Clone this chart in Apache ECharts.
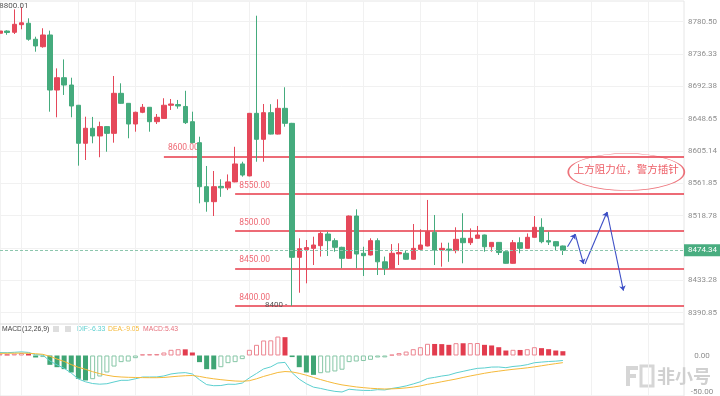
<!DOCTYPE html>
<html><head><meta charset="utf-8">
<script src="https://cdn.jsdelivr.net/npm/echarts@6/dist/echarts.min.js"></script>
<style>html,body{margin:0;padding:0;background:#fff}#c{width:720px;height:396px}</style>
</head><body><div id="c"></div>
<script>
// ---------------- data ----------------
const slotCount = 97; // candle slots (80 candles + empty future slots)
// [open, close, low, high]
const ohlc = [
 [8765,8768,8763,8770],[8768,8766,8763,8769],[8766.3,8777,8764,8797],[8776.5,8779,8770.3,8800.01],
 [8778.4,8757,8755,8785],[8757,8748,8740.3,8760.4],[8747,8762.7,8745.7,8771.7],[8762.7,8689,8660,8768.5],
 [8689,8705.5,8652.5,8718],[8705.5,8695.7,8682.4,8730],[8695.7,8667.6,8652.5,8705.5],[8668.6,8617.7,8587.7,8669],
 [8617.7,8637.8,8595.3,8653.3],[8637.8,8627.5,8617.7,8653],[8627.5,8640,8599,8646.6],[8640,8631,8606.4,8640.5],
 [8631,8684.6,8618.5,8707.8],[8684.6,8671.2,8670.5,8698],[8671.2,8643.5,8624.4,8671.5],[8643.5,8659.2,8633.2,8660],
 [8659.2,8665.9,8658,8670.3],[8665.9,8646.6,8633.2,8666],[8646.6,8652.5,8643.5,8656.9],[8651,8668.6,8650.5,8678],
 [8668.6,8670.3,8662.3,8677],[8669.5,8667.6,8664,8675.7],[8667,8645.3,8643.5,8688],[8646.6,8618.5,8618,8660],
 [8618.5,8559.6,8537.3,8626.5],[8559.6,8539.5,8526.1,8587.3],[8539.5,8559.6,8520.3,8580.6],[8560,8558,8546,8569.5],
 [8558,8566,8555,8576],[8566,8590,8565.5,8613],[8590,8575.2,8573,8593],[8574,8657.8,8573.5,8658.3],
 [8657.8,8623,8593,8788.5],[8623,8658.7,8593,8670.3],[8658.7,8630,8629.5,8670],[8630,8664.5,8629.5,8676.6],
 [8664.5,8644.4,8639.9,8692.7],[8644.4,8465,8400,8645],[8465,8476.6,8417.6,8490.5],[8475,8478,8430.2,8488.2],
 [8477,8481.5,8454.7,8492.6],[8480.6,8497,8466,8499.3],[8496.2,8487.3,8466.8,8499.3],[8487.3,8478.4,8472.5,8490.5],
 [8478.4,8463.7,8450.3,8479.2],[8463.7,8520.3,8463,8521],[8520.3,8469.4,8450.3,8529.3],[8470.4,8467.2,8440,8479.2],
 [8468.1,8487.3,8467.5,8490.5],[8487.3,8459,8441.3,8490.5],[8459,8450.3,8441.3,8466],[8450.3,8470.4,8449.8,8482.7],
 [8469.6,8471.4,8454.7,8483.8],[8470.4,8462.4,8462,8474.8],[8462.4,8477,8462,8509.6],[8475.7,8481.5,8475.2,8502.5],
 [8480.2,8499.3,8479.7,8541.8],[8498.5,8474.8,8454.7,8521.7],[8474.8,8477,8452.5,8484.6],[8476,8474,8459,8484.6],
 [8474,8489.1,8470.4,8505.2],[8490.5,8484.6,8457,8524],[8484.6,8490.5,8481.5,8503.8],[8490.5,8494.9,8490,8507],
 [8494.9,8479.2,8472.5,8495.4],[8479.2,8485,8472.5,8485.5],[8485,8471.4,8468.1,8485.5],[8472.5,8457,8456.5,8473],
 [8457,8484.6,8456.5,8488.2],[8484.6,8477,8470.4,8491.8],[8477,8491.8,8476.5,8497],[8491.8,8505.2,8491.3,8520.3],
 [8505.2,8485.9,8483.8,8517.3],[8487.3,8485.5,8481.5,8499.3],[8486,8480.2,8474.8,8486.5],[8480.2,8474.34,8468.1,8480.7]
];
const macdHist = [2.0,1.5,2.3,3.2,2.2,-2.5,-2.0,-11.8,-14.8,-17.3,-21.5,-29.5,-31.6,-30.0,-26.6,-21.5,-14.0,-8.4,-7.6,-3.4,
 1.5,1.7,1.9,3.8,7.2,8.0,7.8,3.8,-8.4,-17.3,-17.5,-14.8,-9.7,-8.4,-4.6,7.2,13.5,19.0,19.2,24.0,
 23.2,-2.0,-14.8,-21.5,-24.5,-22.4,-21.5,-20.2,-18.0,-8.4,-7.6,-7.0,-5.5,-2.5,-2.4,1.0,3.0,5.0,8.0,10.5,
 14.8,14.6,14.4,13.5,15.6,15.5,15.7,15.8,13.5,12.7,10.5,6.3,7.2,7.0,8.0,10.5,9.3,8.0,6.3,5.43];
const dif = [3.7,3.55,4.05,4.6,3.9,0.95,0.5,-6.9,-11.9,-16.15,-22.25,-29.75,-33.3,-35.5,-36.3,-35.75,-33.5,-31.4,-31.4,-29.5,
 -27.25,-27.25,-27.15,-25.9,-23.4,-22.2,-21.7,-23.4,-30.7,-36.85,-38.25,-38.0,-36.35,-36.5,-34.9,-28.3,-22.75,-17.0,-14.4,-9.5,
 -8.7,-21.8,-30.0,-35.75,-40.05,-41.7,-43.75,-45.4,-46.2,-42.7,-43.6,-44.2,-44.25,-43.25,-43.6,-41.7,-40.3,-38.5,-36.0,-33.25,
 -29.1,-27.7,-26.0,-24.75,-22.0,-20.05,-18.05,-16.3,-15.75,-14.65,-14.55,-15.45,-13.9,-13.1,-11.6,-9.15,-8.35,-7.6,-7.15,-6.33];
const dea = [2.7,2.8,2.9,3.0,2.8,2.2,1.5,-1.0,-4.5,-7.5,-11.5,-15.0,-17.5,-20.5,-23.0,-25.0,-26.5,-27.2,-27.6,-27.8,
 -28.0,-28.1,-28.1,-27.8,-27.0,-26.2,-25.6,-25.3,-26.5,-28.2,-29.5,-30.6,-31.5,-32.3,-32.6,-31.9,-29.5,-26.5,-24.0,-21.5,
 -20.3,-20.8,-22.6,-25.0,-27.8,-30.5,-33.0,-35.3,-37.2,-38.5,-39.8,-40.7,-41.5,-42.0,-42.4,-42.2,-41.8,-41.0,-40.0,-38.5,
 -36.5,-35.0,-33.2,-31.5,-29.8,-27.8,-25.9,-24.2,-22.5,-21.0,-19.8,-18.6,-17.5,-16.6,-15.6,-14.4,-13.0,-11.6,-10.3,-9.05];
const priceTickLabels = ['8390.85','8433.28','8475.92','8518.78','8561.85','8605.14','8648.65','8692.38','8736.33','8780.50'];
const macdTickLabels = ['-50.00','0.00'];
const levelPrices = [8600, 8550, 8500, 8450, 8400];
const levelStartSlot = [23, 33, 33, 33, 33];
const arrowSegments = [
 [[79.65,8479.2],[80.73,8496.2]],
 [[80.73,8496.2],[81.9,8456.1]],
 [[82.1,8456.1],[85.2,8525.7]],
 [[85.2,8525.7],[87.5,8420.3]]
];
const lastPrice = 8474.34;
const highPoint = [3, 8800.01];
const lowPoint = [41, 8400];
const noteText = '上方阻力位，警方插针';
const notePoint = [87.9, 8579.3];

// ---------------- chart ----------------
const cats = Array.from({length: slotCount}, (_, i) => String(i));
const RED = '#e5485a', GREEN = '#45ab7d';
const gridLineColor = '#f1f1f1';
const vSplit = (i) => (i - 3) % 8 === 0;

const macdData = macdHist.map((v, i) => {
  const prev = i > 0 ? macdHist[i - 1] : v;
  const falling = v < prev;
  const pos = v >= 0;
  const col = pos ? '#e23c4e' : '#3fa574';
  const hollow = pos ? '#ec8590' : '#86c6a6';
  return {value: v, itemStyle: falling ? {color: col, borderColor: col, borderWidth: 0}
                                        : {color: 'rgba(255,255,255,0)', borderColor: hollow, borderWidth: 1}};
});

const chart = echarts.init(document.getElementById('c'), null, {renderer: 'canvas'});
chart.setOption({
  animation: false,
  textStyle: {fontFamily: 'Roboto, "Noto Sans CJK SC", sans-serif'},
  grid: [
    {left: -1, right: 36, top: 1, height: 323, show: true, borderColor: '#e6e6e6', borderWidth: 1},
    {left: -1, right: 36, top: 21.7, height: 291},
    {left: -1, right: 36, top: 324, height: 72, show: true, borderColor: '#e6e6e6', borderWidth: 1},
    {left: -1, right: 36, top: 355.5, height: 39.5}
  ],
  xAxis: [
    {type: 'category', gridIndex: 0, data: cats, boundaryGap: false,
     axisLine: {show: false}, axisTick: {show: false}, axisLabel: {show: false},
     splitLine: {show: true, interval: vSplit, lineStyle: {color: gridLineColor}}},
    {type: 'value', gridIndex: 0, min: 0, max: slotCount - 1, show: false},
    {type: 'value', gridIndex: 1, min: 0, max: 1, show: false},
    {type: 'category', gridIndex: 2, data: cats, boundaryGap: false,
     axisLine: {show: false}, axisTick: {show: false}, axisLabel: {show: false},
     splitLine: {show: true, interval: vSplit, lineStyle: {color: gridLineColor}}},
    {type: 'value', gridIndex: 3, min: 0, max: 1, show: false}
  ],
  yAxis: [
    {type: 'value', gridIndex: 0, min: 8375.73, max: 8808.2, show: false, scale: true},
    {type: 'value', gridIndex: 1, position: 'right', min: 0, max: priceTickLabels.length - 1, interval: 1,
     axisLine: {show: false}, axisTick: {show: false},
     axisLabel: {color: '#8e8e8e', fontSize: 8, margin: 19, align: 'center',
                 formatter: (v) => priceTickLabels[Math.round(v)]},
     splitLine: {show: true, lineStyle: {color: gridLineColor}}},
    {type: 'value', gridIndex: 2, min: -51.27, max: 39.87, show: false},
    {type: 'value', gridIndex: 3, position: 'right', min: -50, max: 0, interval: 50,
     axisLine: {show: false}, axisTick: {show: false}, splitLine: {show: false},
     axisLabel: {color: '#8e8e8e', fontSize: 8, margin: 18, align: 'center',
                 formatter: (v) => macdTickLabels[Math.round((v + 50) / 50)]}}
  ],
  series: [
    {type: 'candlestick', xAxisIndex: 0, yAxisIndex: 0, data: ohlc, barWidth: 5,
     itemStyle: {color: RED, color0: GREEN, borderColor: RED, borderColor0: GREEN, borderWidth: 1},
     markLine: {silent: true, symbol: 'none',
       data: [{yAxis: lastPrice}],
       lineStyle: {type: [3, 2], color: '#8cc6ad', width: 1},
       label: {position: 'end', distance: 0, formatter: () => lastPrice.toFixed(2),
               color: '#fff', backgroundColor: '#49ad80', fontSize: 8, padding: [2, 4, 2, 4]}},
     markPoint: {silent: true, symbol: 'circle', symbolSize: 0,
       label: {show: true, color: '#555', fontSize: 8, formatter: (p) => p.value},
       data: [
         {coord: highPoint, value: highPoint[1].toFixed(2), label: {position: 'left', distance: 0, offset: [7, -1]}},
         {coord: lowPoint, value: String(lowPoint[1]) + ' -', label: {position: 'left', distance: 5, offset: [0, -1]}}
       ]}
    },
    {type: 'lines', coordinateSystem: 'cartesian2d', xAxisIndex: 1, yAxisIndex: 0, silent: true,
     symbol: 'none',
     lineStyle: {color: '#e73a48', width: 1.6, opacity: 1},
     label: {show: true, position: 'insideStartTop', distance: 4, color: '#ee6a75', fontSize: 8.5,
             formatter: (p) => p.name},
     data: levelPrices.map((v, i) => ({name: v.toFixed(2), coords: [[levelStartSlot[i], v], [slotCount - 1, v]]}))
    },
    {type: 'lines', coordinateSystem: 'cartesian2d', xAxisIndex: 1, yAxisIndex: 0, silent: true,
     symbol: ['none', 'arrow'], symbolSize: 5,
     lineStyle: {color: '#3d4fc6', width: 1.1, opacity: 1},
     data: arrowSegments.map(s => ({coords: s}))
    },
    {type: 'scatter', xAxisIndex: 1, yAxisIndex: 0, silent: true,
     symbol: 'circle', symbolSize: [116, 37],
     itemStyle: {color: 'rgba(0,0,0,0)', borderColor: '#e8505a', borderWidth: 1},
     label: {show: true, position: 'inside', formatter: noteText, color: '#e8333f', fontSize: 10.5, offset: [0, -3],
             fontFamily: '"Noto Sans CJK SC", sans-serif'},
     data: [notePoint]
    },
    {type: 'bar', xAxisIndex: 3, yAxisIndex: 2, data: macdData, barWidth: 5, silent: true},
    {type: 'line', xAxisIndex: 3, yAxisIndex: 2, data: dif, showSymbol: false, silent: true,
     lineStyle: {color: '#5ccfcf', width: 1}},
    {type: 'line', xAxisIndex: 3, yAxisIndex: 2, data: dea, showSymbol: false, silent: true,
     lineStyle: {color: '#f5b93a', width: 1}}
  ],
  graphic: [
    {type: 'text', x: 2, y: 329, style: {text: 'MACD(12,26,9)', fill: '#444', fontSize: 6.8, verticalAlign: 'middle'}},
    {type: 'rect', shape: {x: 53, y: 326, width: 6, height: 6}, style: {fill: '#dedede'}},
    {type: 'rect', shape: {x: 65, y: 326, width: 6, height: 6}, style: {fill: '#dedede'}},
    {type: 'text', x: 77, y: 329, style: {text: 'DIF:' + dif[dif.length - 1].toFixed(2), fill: '#5ccfcf', fontSize: 6.8, verticalAlign: 'middle'}},
    {type: 'text', x: 108, y: 329, style: {text: 'DEA:' + dea[dea.length - 1].toFixed(2), fill: '#f5b93a', fontSize: 6.8, verticalAlign: 'middle'}},
    {type: 'text', x: 143, y: 329, style: {text: 'MACD:' + macdHist[macdHist.length - 1].toFixed(2), fill: '#e6707c', fontSize: 6.8, verticalAlign: 'middle'}},
    {type: 'group', x: 626, y: 366, silent: true, children: [
      {type: 'rect', shape: {x: 0, y: 0, width: 12, height: 4}, style: {fill: '#d6d6d6'}},
      {type: 'rect', shape: {x: 0, y: 0, width: 4, height: 20}, style: {fill: '#d6d6d6'}},
      {type: 'rect', shape: {x: 0, y: 8, width: 10, height: 4}, style: {fill: '#d6d6d6'}},
      {type: 'rect', shape: {x: 15, y: 0, width: 12, height: 20}, style: {fill: 'none', stroke: '#d6d6d6', lineWidth: 3}}
    ]},
    {type: 'text', x: 657, y: 376, silent: true, style: {text: '非小号', fill: '#d0d0d0', fontSize: 18, fontWeight: 'bold',
      fontFamily: '"Noto Sans CJK SC", sans-serif', verticalAlign: 'middle'}}
  ]
});
</script>
</body></html>
